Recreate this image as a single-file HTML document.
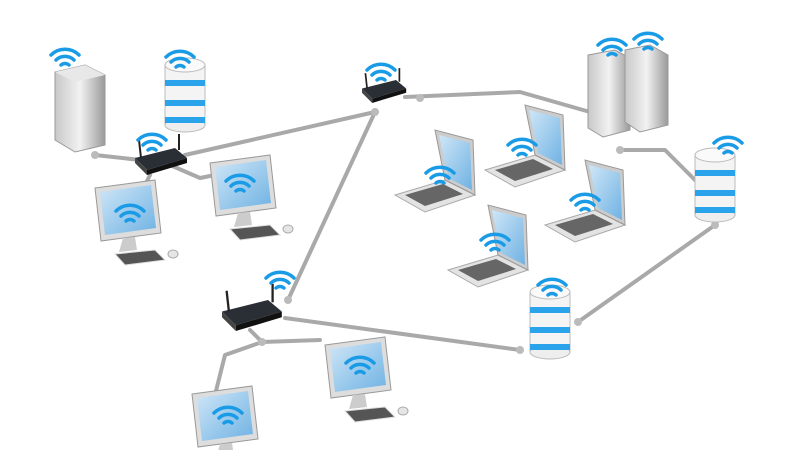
<!DOCTYPE html>
<html><head><meta charset="utf-8"><style>html,body{margin:0;padding:0;background:#fff}svg{display:block}</style></head>
<body>
<svg width="800" height="450" viewBox="0 0 800 450" xmlns="http://www.w3.org/2000/svg">
<defs>
<linearGradient id="scr" x1="0" y1="0" x2="1" y2="1"><stop offset="0" stop-color="#cfe6f7"/><stop offset="1" stop-color="#6fb2e3"/></linearGradient>
<linearGradient id="srv" x1="0" y1="0" x2="1" y2="0"><stop offset="0" stop-color="#c8c8c8"/><stop offset=".5" stop-color="#f2f2f2"/><stop offset="1" stop-color="#9a9a9a"/></linearGradient>
<g id="wifi" fill="none" stroke="#1a9be6" stroke-width="3.5" stroke-linecap="round">
<path d="M-14,-5 A20,20 0 0 1 14,-5"/><path d="M-9,0 A13,13 0 0 1 9,0"/><path d="M-4,5 A6,6 0 0 1 4,5"/>
</g>
<g id="mon">
<path d="M0,0 L60,-8 L66,45 L6,53 Z" fill="#ddd" stroke="#999"/>
<path d="M5,4 L56,-3 L61,40 L10,47 Z" fill="url(#scr)"/>
<path d="M28,50 L40,49 L42,62 L24,64 Z" fill="#ccc"/>
<path d="M20,66 L60,62 L70,72 L30,77 Z" fill="#555" stroke="#ddd"/>
<ellipse cx="78" cy="66" rx="5" ry="4" fill="#e5e5e5" stroke="#aaa"/>
</g>
<g id="lap">
<path d="M0,55 L50,40 L80,55 L30,72 Z" fill="#e3e3e3" stroke="#aaa"/>
<path d="M10,55 L48,44 L68,54 L30,66 Z" fill="#666"/>
<path d="M50,40 L40,-10 L78,0 L80,55 Z" fill="#ccc" stroke="#999"/>
<path d="M53,38 L44,-5 L75,3 L77,50 Z" fill="url(#scr)"/>
</g>
<g id="db">
<rect x="0" y="0" width="40" height="60" fill="#f4f4f4" stroke="#bbb"/>
<ellipse cx="20" cy="60" rx="20" ry="7" fill="#eee" stroke="#bbb"/>
<rect x="0" y="15" width="40" height="6" fill="#2aa3ea"/>
<rect x="0" y="35" width="40" height="6" fill="#2aa3ea"/>
<rect x="0" y="52" width="40" height="6" fill="#2aa3ea"/>
<ellipse cx="20" cy="0" rx="20" ry="7" fill="#fafafa" stroke="#bbb"/>
</g>
<g id="rt">
<path d="M0,10 L40,0 L52,10 L12,22 Z" fill="#2a2f36"/>
<path d="M12,22 L52,10 L52,15 L12,27 Z" fill="#111"/>
<path d="M0,10 L12,22 L12,27 L0,15 Z" fill="#444"/>
<line x1="6" y1="10" x2="4" y2="-8" stroke="#222" stroke-width="2"/>
<line x1="44" y1="2" x2="44" y2="-14" stroke="#222" stroke-width="2"/>
</g>
</defs>
<g fill="none" stroke="#a9a9a9" stroke-width="4" stroke-linecap="round" stroke-linejoin="round">
<path d="M95,155 L140,160"/>
<path d="M185,155 L375,112"/>
<path d="M375,112 L288,300"/>
<path d="M405,97 L520,92 L590,112"/>
<path d="M620,150 L665,150 L700,185"/>
<path d="M715,225 L578,322"/>
<path d="M285,318 L520,350"/>
<path d="M250,330 L262,342 L320,340"/>
<path d="M262,342 L225,355 L215,395"/>
<path d="M170,165 L200,178 L215,175"/>
<path d="M150,175 L140,195"/>
</g>
<g fill="#bbb"><circle cx="95" cy="155" r="4"/><circle cx="375" cy="112" r="4"/><circle cx="420" cy="98" r="4"/><circle cx="620" cy="150" r="4"/><circle cx="700" cy="185" r="4"/><circle cx="715" cy="225" r="4"/><circle cx="520" cy="350" r="4"/><circle cx="262" cy="342" r="4"/><circle cx="578" cy="322" r="4"/><circle cx="288" cy="300" r="4"/></g>
<path d="M55,72 L85,65 L105,75 L105,145 L75,152 L55,140 Z" fill="url(#srv)" stroke="#999"/>
<path d="M55,72 L85,65 L105,75 L75,82 Z" fill="#e8e8e8"/>
<use href="#wifi" x="65" y="60"/>
<use href="#db" x="165" y="65"/>
<use href="#wifi" x="180" y="62"/>
<use href="#rt" x="135" y="148"/>
<use href="#wifi" x="152" y="145"/>
<use href="#rt" x="362" y="80" transform="translate(362,80) scale(.85) translate(-362,-80)"/>
<use href="#wifi" x="381" y="75"/>
<path d="M588,55 L615,50 L630,58 L630,130 L603,137 L588,128 Z" fill="url(#srv)" stroke="#999"/>
<path d="M625,50 L650,45 L668,55 L668,125 L640,132 L625,122 Z" fill="url(#srv)" stroke="#999"/>
<use href="#wifi" x="612" y="50"/>
<use href="#wifi" x="648" y="44"/>
<use href="#db" x="695" y="155"/>
<use href="#wifi" x="728" y="148"/>
<use href="#db" x="530" y="292"/>
<use href="#wifi" x="552" y="290"/>
<use href="#rt" x="222" y="300" transform="translate(222,300) scale(1.15) translate(-222,-300)"/>
<use href="#wifi" x="280" y="283"/>
<use href="#mon" x="95" y="188"/>
<use href="#wifi" x="130" y="216"/>
<use href="#mon" x="210" y="163"/>
<use href="#wifi" x="240" y="186"/>
<use href="#mon" x="325" y="345"/>
<use href="#wifi" x="360" y="368"/>
<use href="#mon" x="192" y="394"/>
<use href="#wifi" x="228" y="418"/>
<use href="#lap" x="395" y="140"/>
<use href="#wifi" x="440" y="178"/>
<use href="#lap" x="485" y="115"/>
<use href="#wifi" x="522" y="150"/>
<use href="#lap" x="545" y="170"/>
<use href="#wifi" x="585" y="205"/>
<use href="#lap" x="448" y="215"/>
<use href="#wifi" x="495" y="245"/>
</svg>
</body></html>
